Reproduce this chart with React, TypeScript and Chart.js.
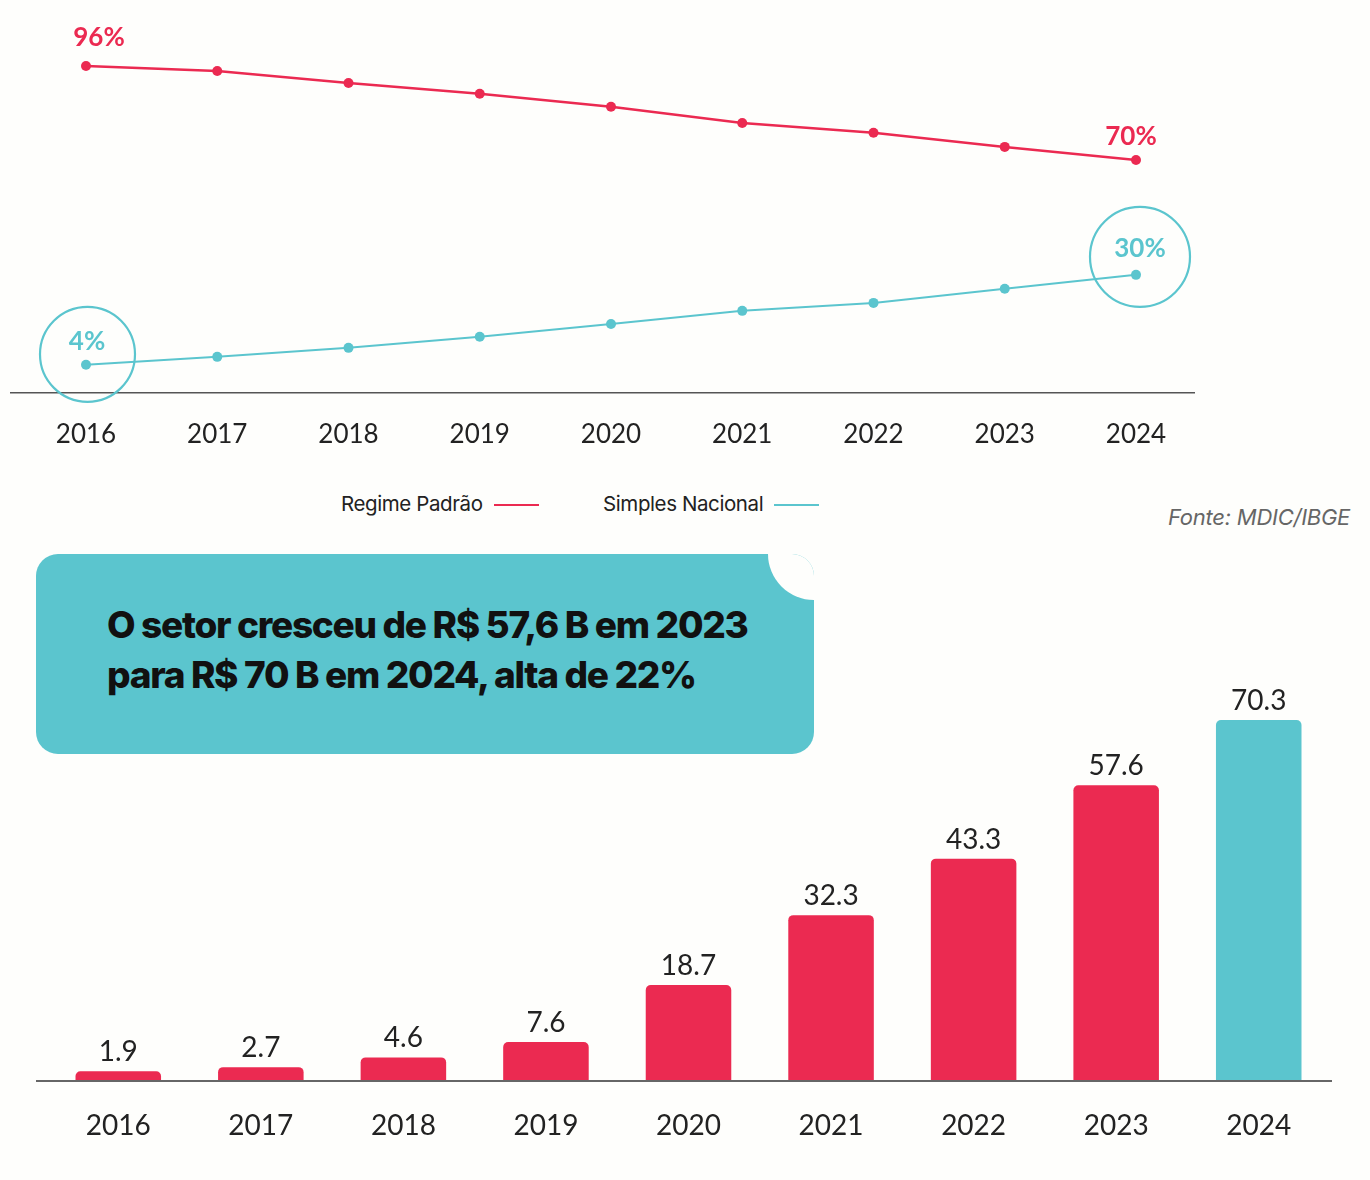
import React, { useEffect, useRef } from 'react';
import { Chart, registerables } from 'chart.js';

Chart.register(...registerables);

const years = ['2016', '2017', '2018', '2019', '2020', '2021', '2022', '2023', '2024'];
const regimePadrao = [96, 94.6, 91.3, 88.3, 84.7, 80.2, 77.5, 73.6, 70];
const simplesNacional = [4, 6.3, 8.9, 12.1, 15.8, 19.6, 21.9, 26, 30];
const setorValores = [1.9, 2.7, 4.6, 7.6, 18.7, 32.3, 43.3, 57.6, 70.3];

const RED = '#EB2A51';
const CYAN = '#5BC5CE';
const PAGE_BG = '#fefefc';
const TEXT = '#222222';
const barColors = setorValores.map((_, i) => (i === setorValores.length - 1 ? CYAN : RED));

const lineDecor = {
  id: 'lineDecor',
  afterDatasetsDraw(chart: any) {
    const { ctx, chartArea } = chart;
    ctx.save();
    ctx.strokeStyle = '#555';
    ctx.lineWidth = 1.6;
    ctx.beginPath();
    ctx.moveTo(chartArea.left - 76, chartArea.bottom);
    ctx.lineTo(chartArea.right + 59, chartArea.bottom);
    ctx.stroke();

    const red = chart.getDatasetMeta(0).data;
    const cy = chart.getDatasetMeta(1).data;
    const last = red.length - 1;
    ctx.font = 'bold 26px Lato';
    ctx.textAlign = 'center';
    ctx.textBaseline = 'alphabetic';
    ctx.fillStyle = RED;
    ctx.fillText(Math.round(regimePadrao[0]) + '%', red[0].x + 13, red[0].y - 20);
    ctx.fillText(Math.round(regimePadrao[last]) + '%', red[last].x - 5, red[last].y - 15);

    ctx.fillStyle = CYAN;
    ctx.fillText(Math.round(simplesNacional[0]) + '%', cy[0].x + 1, cy[0].y - 15);
    ctx.fillText(Math.round(simplesNacional[last]) + '%', cy[last].x + 4, cy[last].y - 18);

    ctx.strokeStyle = CYAN;
    ctx.lineWidth = 2.2;
    ctx.beginPath();
    ctx.arc(cy[0].x + 1.5, cy[0].y - 10.5, 47.5, 0, Math.PI * 2);
    ctx.stroke();
    ctx.beginPath();
    ctx.arc(cy[last].x + 4, cy[last].y - 18, 50, 0, Math.PI * 2);
    ctx.stroke();
    ctx.restore();
  },
};

const barDecor = {
  id: 'barDecor',
  afterDatasetsDraw(chart: any) {
    const { ctx, chartArea } = chart;
    const y0 = chart.scales.y.getPixelForValue(0);
    ctx.save();
    ctx.strokeStyle = '#666';
    ctx.lineWidth = 2;
    ctx.beginPath();
    ctx.moveTo(chartArea.left - 11, y0);
    ctx.lineTo(chartArea.right + 2, y0);
    ctx.stroke();

    ctx.font = '28px Lato';
    ctx.fillStyle = TEXT;
    ctx.textAlign = 'center';
    ctx.textBaseline = 'alphabetic';
    chart.getDatasetMeta(0).data.forEach((bar: any, i: number) => {
      ctx.fillText(String(setorValores[i]), bar.x, bar.y - 10);
    });
    ctx.restore();
  },
};

function LineChart() {
  const ref = useRef<HTMLCanvasElement>(null);
  useEffect(() => {
    const chart = new Chart(ref.current as HTMLCanvasElement, {
      type: 'line',
      data: {
        labels: years,
        datasets: [
          {
            label: 'Regime Padrão',
            data: regimePadrao,
            borderColor: RED,
            backgroundColor: RED,
            borderWidth: 2.5,
            pointRadius: 5,
            pointBorderWidth: 0,
            pointBackgroundColor: RED,
            yAxisID: 'yR',
            tension: 0,
            clip: false,
          } as any,
          {
            label: 'Simples Nacional',
            data: simplesNacional,
            borderColor: CYAN,
            backgroundColor: CYAN,
            borderWidth: 2,
            pointRadius: 5,
            pointBorderWidth: 0,
            pointBackgroundColor: CYAN,
            yAxisID: 'yS',
            tension: 0,
            clip: false,
          } as any,
        ],
      },
      options: {
        responsive: false,
        animation: false,
        layout: { padding: { top: 20, left: 86, right: 234, bottom: 4 } },
        plugins: { legend: { display: false }, tooltip: { enabled: false } },
        scales: {
          x: {
            offset: false,
            grid: { display: false, drawTicks: false },
            border: { display: false },
            ticks: {
              font: { family: 'Lato', size: 26 },
              color: TEXT,
              padding: 26,
              maxRotation: 0,
              autoSkip: false,
            },
          },
          yR: { display: false, min: 5.55, max: 108.72 },
          yS: { display: false, min: -4.09, max: 103.67 },
        },
      } as any,
      plugins: [lineDecor],
    });
    return () => chart.destroy();
  }, []);
  return <canvas ref={ref} width={1370} height={480} style={{ display: 'block', width: 1370, height: 480 }} />;
}

function BarChart() {
  const ref = useRef<HTMLCanvasElement>(null);
  useEffect(() => {
    const chart = new Chart(ref.current as HTMLCanvasElement, {
      type: 'bar',
      data: {
        labels: years,
        datasets: [
          {
            label: 'Setor (R$ B)',
            data: setorValores,
            backgroundColor: barColors,
            borderRadius: 5,
            borderSkipped: 'start',
            barPercentage: 0.6,
            categoryPercentage: 1,
          },
        ],
      },
      options: {
        responsive: false,
        animation: false,
        layout: { padding: { top: 27.5, left: 47, right: 40, bottom: 9.4 } },
        plugins: { legend: { display: false }, tooltip: { enabled: false } },
        scales: {
          x: {
            grid: { display: false, drawTicks: false },
            border: { display: false },
            ticks: {
              font: { family: 'Lato', size: 28 },
              color: TEXT,
              padding: 28,
              maxRotation: 0,
              autoSkip: false,
            },
          },
          y: { display: false, min: 0, max: 100 },
        },
      } as any,
      plugins: [barDecor],
    });
    return () => chart.destroy();
  }, []);
  return <canvas ref={ref} width={1370} height={640} style={{ display: 'block', width: 1370, height: 640 }} />;
}

export default function App() {
  const legendText: React.CSSProperties = {
    fontFamily: 'Inter, sans-serif',
    fontSize: 20.5,
    color: TEXT,
    letterSpacing: -0.4,
    whiteSpace: 'nowrap',
  };
  return (
    <div
      style={{
        position: 'absolute',
        left: 0,
        top: 0,
        width: 1370,
        height: 1180,
        background: PAGE_BG,
        overflow: 'hidden',
      }}
    >
      <div style={{ position: 'absolute', left: 0, top: 0 }}>
        <LineChart />
      </div>
      <div style={{ position: 'absolute', left: 341, top: 490, height: 26, display: 'flex', alignItems: 'center' }}>
        <span style={legendText}>Regime Padrão</span>
        <span style={{ display: 'inline-block', width: 45, height: 2, background: RED, marginLeft: 11, marginTop: 4 }} />
      </div>
      <div style={{ position: 'absolute', left: 603, top: 490, height: 26, display: 'flex', alignItems: 'center' }}>
        <span style={legendText}>Simples Nacional</span>
        <span style={{ display: 'inline-block', width: 45, height: 2, background: CYAN, marginLeft: 11, marginTop: 4 }} />
      </div>
      <div
        style={{
          position: 'absolute',
          left: 1168,
          top: 504,
          fontFamily: 'Inter, sans-serif',
          fontStyle: 'italic',
          fontSize: 22,
          color: '#666',
          letterSpacing: -0.25,
          whiteSpace: 'nowrap',
        }}
      >
        Fonte: MDIC/IBGE
      </div>
      <div style={{ position: 'absolute', left: 0, top: 540 }}>
        <BarChart />
      </div>
      <div
        style={{
          position: 'absolute',
          left: 36,
          top: 554,
          width: 778,
          height: 200,
          background: CYAN,
          borderRadius: 22,
          overflow: 'hidden',
        }}
      >
        <div
          style={{
            position: 'absolute',
            left: 778 - 46,
            top: -46,
            width: 92,
            height: 92,
            borderRadius: '50%',
            background: PAGE_BG,
          }}
        />
        <div
          style={{
            position: 'absolute',
            left: 71,
            top: 46,
            fontFamily: 'Inter, sans-serif',
            fontWeight: 800,
            fontSize: 37,
            lineHeight: '50px',
            letterSpacing: -1.3,
            color: '#111',
            whiteSpace: 'nowrap',
          }}
        >
          O setor cresceu de R$ 57,6 B em 2023
          <br />
          para R$ 70 B em 2024, alta de 22%
        </div>
      </div>
    </div>
  );
}
